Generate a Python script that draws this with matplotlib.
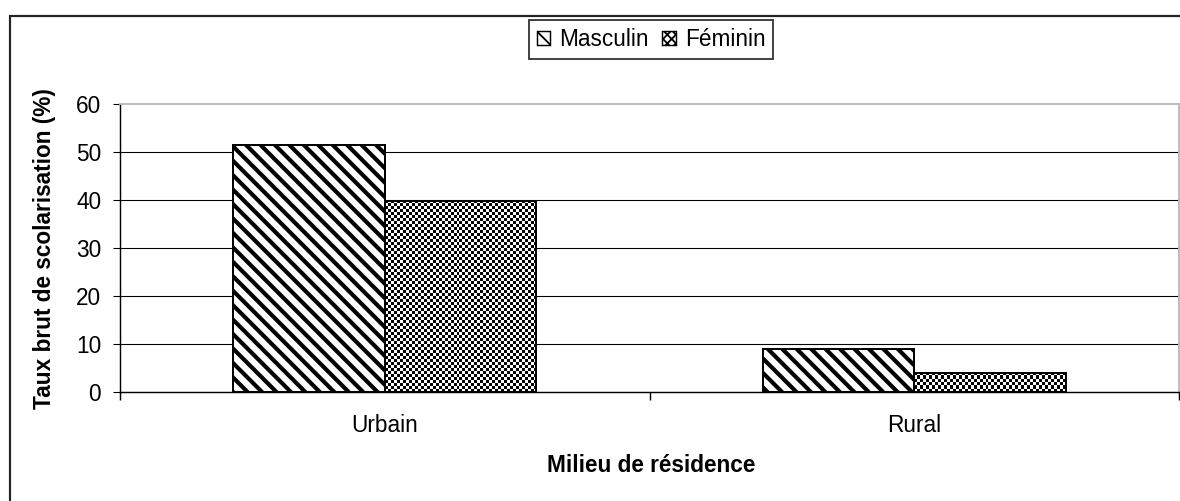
import numpy as np
import matplotlib
matplotlib.use("Agg")
import matplotlib.pyplot as plt
from matplotlib.patches import Patch, Rectangle

# data
milieux = ["Urbain", "Rural"]
masculin = [51.5, 9.0]
feminin = [39.8, 4.0]
yticks = [0, 10, 20, 30, 40, 50, 60]

plt.rcParams["font.family"] = ["Liberation Sans", "DejaVu Sans"]
plt.rcParams["font.size"] = 12.5

dpi = 130
fig = plt.figure(figsize=(1180 / dpi, 501 / dpi), dpi=dpi)
ax = fig.add_axes([120 / 1180, 1 - 392 / 501, 1059 / 1180, 288 / 501])

x = np.arange(len(milieux))
w = 0.2865

with plt.rc_context({"hatch.linewidth": 2.3, "hatch.color": "black"}):
    b1 = ax.bar(x - w / 2, masculin, w, facecolor="white", edgecolor="black",
                hatch="\\\\\\", linewidth=1.1, zorder=3)
b2 = ax.bar(x + w / 2, feminin, w, facecolor="none", edgecolor="black",
            linewidth=1.1, zorder=4)

ax.set_xlim(-0.5, len(milieux) - 0.5)
ax.set_ylim(0, 60)

# checkerboard fill for the Féminin bars
for p in b2:
    x0, y0, bw, bh = p.get_x(), p.get_y(), p.get_width(), p.get_height()
    (px0, py0), (px1, py1) = ax.transData.transform([(x0, y0), (x0 + bw, y0 + bh)])
    nc = max(int(round((px1 - px0) / 3)), 1)
    nr = max(int(round((py1 - py0) / 3)), 1)
    checker = np.add.outer(np.arange(nr), np.arange(nc)) % 2
    im = ax.imshow(checker, cmap="gray", extent=(x0, x0 + bw, y0, y0 + bh),
                   interpolation="nearest", aspect="auto", zorder=2.5,
                   vmin=0, vmax=1)
    im.set_clip_path(p)
ax.set_xlim(-0.5, len(milieux) - 0.5)
ax.set_ylim(0, 60)

# gridlines (top one is the grey frame)
for t in yticks[1:-1]:
    ax.axhline(t, color="black", linewidth=0.6, zorder=1)

ax.set_yticks(yticks)
ax.tick_params(axis="y", direction="out", length=3.9, width=0.6, pad=6.5,
               labelsize=12.5)
ax.set_xticks(x)
ax.set_xticklabels(milieux)
ax.tick_params(axis="x", which="major", length=0, pad=12, labelsize=12.5)
ax.set_xticks(np.arange(len(milieux) + 1) - 0.5, minor=True)
ax.tick_params(axis="x", which="minor", direction="out", length=4.4, width=0.8)

for s in ["left", "bottom"]:
    ax.spines[s].set_color("black")
    ax.spines[s].set_linewidth(0.8)
for s in ["top", "right"]:
    ax.spines[s].set_color("#b8b8b8")
    ax.spines[s].set_linewidth(1.0)

fig.text(45 / 1180, 1 - 249 / 501, "Taux brut de scolarisation (%)",
         rotation=90, ha="center", va="center", fontweight="bold", fontsize=12.5)
fig.text(651 / 1180, 1 - 466 / 501, "Milieu de résidence",
         ha="center", va="center", fontweight="bold", fontsize=12.5)

handles = [
    Patch(facecolor="white", edgecolor="black", hatch="\\\\\\", linewidth=0.8),
    Patch(facecolor="white", edgecolor="black", hatch="xxxxx", linewidth=0.8),
]
leg = fig.legend(handles, ["Masculin", "Féminin"], loc="upper center",
                 bbox_to_anchor=(651 / 1180, 1 - 20 / 501), ncol=2,
                 frameon=True, fancybox=False, edgecolor="black",
                 handlelength=0.6, handleheight=0.6, handletextpad=0.4,
                 columnspacing=0.6, borderpad=0.35, borderaxespad=0,
                 fontsize=12.5)
leg.get_frame().set_linewidth(1.0)

# outer chart frame
fig.patches.append(Rectangle((10 / 1180, -0.2), 1.2, 1.2 - 16 / 501,
                             transform=fig.transFigure, fill=False,
                             edgecolor="#222222", linewidth=1.2))

fig.savefig("out.png", dpi=dpi)
